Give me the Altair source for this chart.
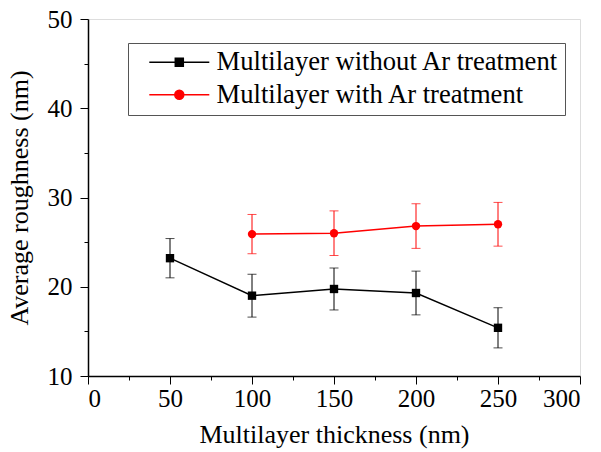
import altair as alt
import pandas as pd

# ---- data ----
series_names = ["Multilayer without Ar treatment", "Multilayer with Ar treatment"]
series_colors = ["#000000", "#ff0000"]

thick_without = [50, 100, 150, 200, 250]
rough_without = [23.2, 19.0, 19.75, 19.3, 15.4]
err_without = [2.2, 2.4, 2.35, 2.45, 2.25]

thick_with = [100, 150, 200, 250]
rough_with = [25.9, 26.0, 26.8, 27.0]
err_with = [2.2, 2.5, 2.5, 2.45]

x_ticks = [0, 50, 100, 150, 200, 250, 300]
x_minor = [25, 75, 125, 175, 225, 275]
y_ticks = [10, 20, 30, 40, 50]
y_minor = [15, 25, 35, 45]

rows = []
for t, r, e in zip(thick_without, rough_without, err_without):
    rows.append({"series": series_names[0], "x": t, "y": r, "lo": r - e, "hi": r + e})
for t, r, e in zip(thick_with, rough_with, err_with):
    rows.append({"series": series_names[1], "x": t, "y": r, "lo": r - e, "hi": r + e})
df = pd.DataFrame(rows)

FONT = "Liberation Serif, Times New Roman, Times, serif"
xscale = alt.Scale(domain=[0, 300], nice=False, zero=False)
yscale = alt.Scale(domain=[10, 50], nice=False, zero=False)
cscale = alt.Scale(domain=series_names, range=series_colors)

xaxis = alt.Axis(values=x_ticks, title="Multilayer thickness (nm)", grid=False,
                 tickSize=8, labelFontSize=25, titleFontSize=26, labelFont=FONT,
                 titleFont=FONT, titleFontWeight="normal", labelPadding=2,
                 titlePadding=10, domainColor="black", tickColor="black",
                 labelColor="black", titleColor="black", domainWidth=1.5, tickWidth=1)
yaxis = alt.Axis(values=y_ticks, title="Average roughness (nm)", grid=False,
                 tickSize=8, labelFontSize=25, titleFontSize=26, labelFont=FONT,
                 titleFont=FONT, titleFontWeight="normal", labelPadding=8,
                 titlePadding=15, domainColor="black", tickColor="black",
                 labelColor="black", titleColor="black", domainWidth=1.5, tickWidth=1)

base = alt.Chart(df)
X = alt.X("x:Q", scale=xscale, axis=xaxis)
Y = alt.Y("y:Q", scale=yscale, axis=yaxis)
C = alt.Color("series:N", scale=cscale, legend=None)

line = base.mark_line(strokeWidth=1.4).encode(x=X, y=Y, color=C, detail="series:N")
rule = base.mark_rule(strokeWidth=1).encode(x=X, y=alt.Y("lo:Q", scale=yscale), y2="hi:Q", color=C)
cap_lo = base.mark_tick(orient="horizontal", size=9, thickness=1).encode(
    x=X, y=alt.Y("lo:Q", scale=yscale), color=C)
cap_hi = base.mark_tick(orient="horizontal", size=9, thickness=1).encode(
    x=X, y=alt.Y("hi:Q", scale=yscale), color=C)
pts = base.mark_point(filled=True, size=70, opacity=1).encode(
    x=X, y=Y, color=C,
    shape=alt.Shape("series:N", scale=alt.Scale(domain=series_names, range=["square", "circle"]),
                    legend=None))

# legend layer: invisible points whose legend symbols are "line + marker"
sq_path = "M0.4,0H12.4M5.6,-0.8H7.2V0.8H5.6Z"
ci_path = "M0.4,0H12.4M7.3,0A0.9,0.9,0,1,1,5.5,0A0.9,0.9,0,1,1,7.3,0Z"
color_expr = "datum.value == '%s' ? '%s' : '%s'" % (series_names[0], series_colors[0], series_colors[1])
leg_layer = base.mark_point(filled=True, opacity=0).encode(
    x=X, y=Y,
    fill=alt.Fill("series:N", scale=cscale, legend=None),
    stroke=alt.Stroke("series:N", scale=cscale, legend=None),
    shape=alt.Shape("series:N", scale=alt.Scale(domain=series_names, range=[sq_path, ci_path]),
                    legend=alt.Legend(title=None, orient="none", legendX=40, legendY=24,
                                      strokeColor="#555555", fillColor="white", padding=6,
                                      labelFont=FONT, labelFontSize=26.6, labelColor="black",
                                      labelLimit=500,
                                      symbolSize=100, labelOffset=56, rowPadding=5.5,
                                      symbolOpacity=1, symbolStrokeWidth=1.5,
                                      symbolFillColor=alt.ExprRef(expr=color_expr),
                                      symbolStrokeColor=alt.ExprRef(expr=color_expr))),
)

# minor ticks
minor_x = alt.Chart(pd.DataFrame({"x": x_minor})).mark_point(opacity=0).encode(
    x=alt.X("x:Q", scale=xscale, axis=alt.Axis(values=x_minor, labels=False, domain=False,
                                               tickSize=4, title=None, grid=False, orient="bottom",
                                               tickColor="black")))
minor_y = alt.Chart(pd.DataFrame({"y": y_minor})).mark_point(opacity=0).encode(
    y=alt.Y("y:Q", scale=yscale, axis=alt.Axis(values=y_minor, labels=False, domain=False,
                                               tickSize=4, title=None, grid=False, orient="left",
                                               tickColor="black")))

main = alt.layer(rule, cap_lo, cap_hi, line, pts, leg_layer).resolve_scale(shape="independent")

chart = alt.layer(main, minor_x, minor_y).resolve_axis(
    x="independent", y="independent"
).resolve_scale(shape="independent").properties(
    width=492, height=357,
    autosize=alt.AutoSizeParams(type="none"),
    padding={"left": 88, "top": 19, "right": 21, "bottom": 76},
).configure_view(stroke="black", strokeWidth=1).configure(background="white")

chart.save("out.html", embed_options={"renderer": "svg", "actions": False})
